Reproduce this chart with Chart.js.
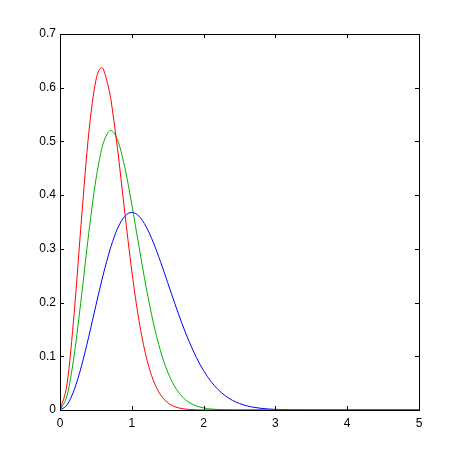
<!DOCTYPE html>
<html>
<head>
<meta charset="utf-8">
<script src="https://cdn.jsdelivr.net/npm/chart.js@4"></script>
<style>
  html, body { margin: 0; padding: 0; background: #fff; }
  #wrap { width: 463px; height: 463px; }
</style>
</head>
<body>
<div id="wrap"><canvas id="curveChart" width="463" height="463"></canvas></div>
<script>
// x positions of the samples
const xValues = [0, 0.1, 0.2, 0.3, 0.4, 0.5, 0.58, 0.6, 0.7, 0.71, 0.8, 0.9, 1.0,
    1.1, 1.2, 1.3, 1.4, 1.5, 1.6, 1.7, 1.8, 1.9, 2.0, 2.1, 2.2, 2.3, 2.4, 2.5,
    2.6, 2.7, 2.8, 2.9, 3.0, 3.5, 4.0, 4.5, 5.0];

const redValues = [0, 0.0504, 0.1843, 0.3570, 0.5144, 0.6136, 0.6371, 0.6352, 0.5853, 0.5773, 0.4876, 0.3705, 0.2587,
    0.1667, 0.0995, 0.0552, 0.0284, 0.0137, 0.0061, 0.0026, 0.0010, 0.0004, 0.0001, 0, 0, 0, 0, 0,
    0, 0, 0, 0, 0, 0, 0, 0, 0];

const greenValues = [0, 0.0277, 0.1044, 0.2126, 0.3286, 0.4289, 0.4855, 0.4957, 0.5201, 0.5202, 0.5032, 0.4534, 0.3828,
    0.3042, 0.2286, 0.1627, 0.1100, 0.0707, 0.0433, 0.0253, 0.0141, 0.0075, 0.0038, 0.0018, 0.0009, 0.0004, 0.0002, 0,
    0, 0, 0, 0, 0, 0, 0, 0, 0];

const blueValues = [0, 0.0099, 0.0384, 0.0823, 0.1363, 0.1947, 0.2403, 0.2512, 0.3002, 0.3045, 0.3375, 0.3603, 0.3679,
    0.3608, 0.3412, 0.3118, 0.2761, 0.2372, 0.1979, 0.1606, 0.1269, 0.0977, 0.0733, 0.0536, 0.0383, 0.0267, 0.0181, 0.0121,
    0.0078, 0.0050, 0.0031, 0.0019, 0.0011, 0.0001, 0, 0, 0];

const xTicks = [0, 1, 2, 3, 4, 5];
const yTicks = [0, 0.1, 0.2, 0.3, 0.4, 0.5, 0.6, 0.7];

function toPoints(ys) {
    return xValues.map((x, i) => ({ x: x, y: ys[i] }));
}

// inward tick marks on all four sides + box, matlab style
const boxTicks = {
    id: "boxTicks",
    afterDraw(chart) {
        const ctx = chart.ctx;
        const a = chart.chartArea;
        const xs = chart.scales.x, ys = chart.scales.y;
        const len = 4;
        ctx.save();
        ctx.strokeStyle = "#000";
        ctx.lineWidth = 1;
        ctx.beginPath();
        xTicks.forEach(v => {
            const px = Math.round(xs.getPixelForValue(v)) + 0.5;
            ctx.moveTo(px, a.bottom); ctx.lineTo(px, a.bottom - len);
            ctx.moveTo(px, a.top); ctx.lineTo(px, a.top + len);
        });
        yTicks.forEach(v => {
            const py = Math.round(ys.getPixelForValue(v)) + 0.5;
            ctx.moveTo(a.left, py); ctx.lineTo(a.left + len, py);
            ctx.moveTo(a.right, py); ctx.lineTo(a.right - len, py);
        });
        ctx.stroke();
        ctx.strokeRect(Math.round(a.left) + 0.5, Math.round(a.top) + 0.5,
            Math.round(a.right - a.left), Math.round(a.bottom - a.top));
        ctx.restore();
    }
};

const ctx = document.getElementById("curveChart").getContext("2d");
new Chart(ctx, {
    type: "line",
    data: {
        datasets: [
            { data: toPoints(redValues), borderColor: "#ff0000" },
            { data: toPoints(greenValues), borderColor: "#00b000" },
            { data: toPoints(blueValues), borderColor: "#0000ff" },
        ],
    },
    options: {
        responsive: false,
        animation: false,
        layout: { padding: { left: 0, top: 34, right: 44, bottom: 0 } },
        elements: {
            line: { borderWidth: 1, cubicInterpolationMode: "monotone", fill: false },
            point: { radius: 0 },
        },
        plugins: { legend: { display: false }, tooltip: { enabled: false } },
        scales: {
            x: {
                type: "linear",
                min: 0, max: 5,
                grid: { display: false, drawTicks: false, tickLength: 0 },
                border: { display: false },
                afterFit: s => { s.height = 53; },
                afterBuildTicks: s => { s.ticks = xTicks.map(v => ({ value: v })); },
                ticks: {
                    color: "#000",
                    padding: 6,
                    font: { family: "Liberation Sans", size: 12 },
                    maxRotation: 0,
                },
            },
            y: {
                min: 0, max: 0.7,
                grid: { display: false, drawTicks: false, tickLength: 0 },
                border: { display: false },
                afterFit: s => { s.width = 60; },
                afterBuildTicks: s => { s.ticks = yTicks.map(v => ({ value: v })); },
                ticks: {
                    color: "#000",
                    padding: 4,
                    font: { family: "Liberation Sans", size: 12 },
                    callback: v => String(+v.toFixed(1)),
                },
            },
        },
    },
    plugins: [boxTicks],
});
</script>
</body>
</html>
